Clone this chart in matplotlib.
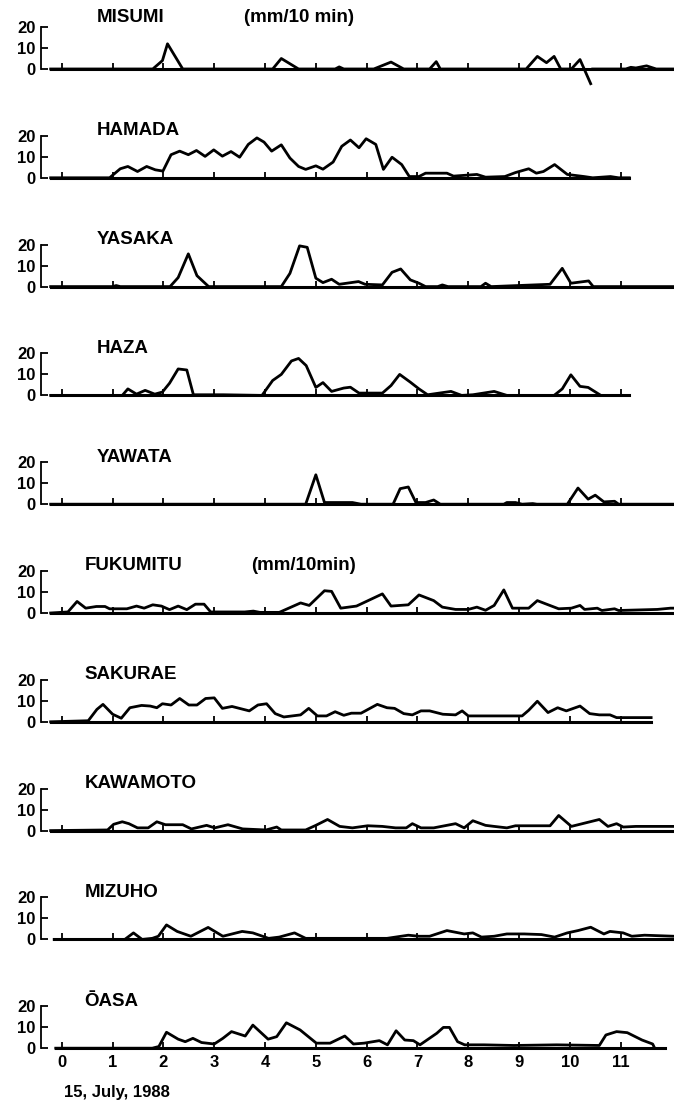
import matplotlib.pyplot as plt

plt.rcParams['font.family'] = ['Liberation Sans', 'DejaVu Sans']

nan = float('nan')

# rainfall (mm/10 min), 15 July 1988, time in hours
stations = ["MISUMI", "HAMADA", "YASAKA", "HAZA", "YAWATA",
            "FUKUMITU", "SAKURAE", "KAWAMOTO", "MIZUHO", "ŌASA"]

misumi_t = [-0.22, 1.79, 1.98, 2.08, 2.38, 4.15, 4.32, 4.66, 5.38, 5.46,
            5.55, 6.14, 6.48, 6.73, 7.24, 7.37, 7.45, 9.14, 9.36, 9.54,
            9.69, 9.82, 10.03, 10.2, 10.41, nan, 10.45, 11.1, 11.2, 11.3,
            11.51, 11.7, 12.05]
misumi_v = [0, 0, 4, 12, 0, 0, 5, 0, 0, 1,
            0, 0, 3.3, 0, 0, 3.5, 0, 0, 6, 3,
            6, 0, 0, 4.5, -7, nan, 0, 0, 0.8, 0.5,
            1.5, 0, 0]

hamada_t = [-0.22, 0.94, 1.15, 1.3, 1.49, 1.67, 1.84, 1.99, 2.15, 2.32,
            2.49, 2.65, 2.82, 2.99, 3.16, 3.33, 3.5, 3.67, 3.84, 3.98,
            4.13, 4.32, 4.49, 4.66, 4.8, 5.0, 5.14, 5.34, 5.51, 5.68,
            5.85, 5.99, 6.18, 6.33, 6.5, 6.69, 6.84, 7.03, 7.16, 7.58,
            7.71, 8.17, 8.34, 8.72, 8.93, 9.19, 9.34, 9.48, 9.7, 9.95,
            10.28, 10.45, 10.8, 10.96, 11.17]
hamada_v = [0, 0, 4.3, 5.4, 3, 5.4, 3.8, 3.2, 11, 12.7,
            11, 13, 10.2, 13.3, 10.3, 12.5, 9.8, 15.9, 19, 17,
            12.7, 15.7, 9.4, 5.4, 4, 5.7, 4.1, 7.5, 15, 18,
            14.3, 18.6, 15.9, 4, 9.8, 6.3, 0.6, 0.6, 2.2, 2.2,
            0.8, 1.6, 0.3, 0.6, 2.5, 4.3, 2.2, 3, 6.3, 1.6,
            0.6, 0, 0.6, 0, 0]

yasaka_t = [-0.22, 1.0, 1.07, 1.15, 2.13, 2.29, 2.49, 2.66, 2.89, 4.32,
            4.49, 4.68, 4.83, 5.0, 5.14, 5.31, 5.46, 5.84, 5.97, 6.31,
            6.5, 6.67, 6.86, 7.03, 7.16, 7.4, 7.49, 7.6, 8.25, 8.34,
            8.45, 9.61, 9.85, 10.02, 10.37, 10.46, 12.05]
yasaka_v = [0, 0, 0.5, 0, 0, 4.3, 15.6, 5.2, 0, 0,
            6.3, 19.4, 18.7, 4, 1.9, 3.5, 1.1, 2.4, 1.1, 0.8,
            6.8, 8.4, 3.2, 1.6, 0, 0, 0.8, 0, 0, 1.6,
            0, 1.1, 8.7, 1.6, 2.7, 0, 0]

haza_t = [-0.22, 1.19, 1.3, 1.47, 1.64, 1.83, 1.98, 2.12, 2.29, 2.46,
          2.59, 3.18, 3.94, 4.15, 4.32, 4.52, 4.66, 4.81, 5.0, 5.14,
          5.31, 5.55, 5.68, 5.85, 6.31, 6.48, 6.65, 6.86, 7.03, 7.2,
          7.66, 7.87, 8.09, 8.51, 8.76, 9.69, 9.85, 10.02, 10.2, 10.36,
          10.61, 11.17]
haza_v = [0, 0, 3.1, 0.6, 2.4, 0.6, 1.6, 5.8, 12.6, 12.1,
          0.3, 0.3, 0, 7.1, 10, 16.4, 17.6, 14.2, 3.8, 6.1,
          1.9, 3.5, 3.9, 1.1, 1.1, 4.7, 10, 6.3, 3.1, 0.3,
          1.9, 0, 0.3, 1.9, 0, 0, 3.1, 9.8, 4.3, 3.8,
          0, 0]

yawata_t = [-0.22, 4.8, 5.0, 5.17, 5.72, 5.89, 6.52, 6.66, 6.82, 6.97,
            7.16, 7.32, 7.45, 8.7, 8.76, 8.93, 9.06, 9.27, 9.35, 9.95,
            10.16, 10.36, 10.5, 10.67, 10.88, 10.96, 12.05]
yawata_v = [0, 0, 14, 0.8, 0.8, 0, 0, 7.4, 8.2, 0.8,
            0.8, 2, 0, 0, 0.8, 0.8, 0, 0.3, 0, 0,
            7.7, 2.4, 4.3, 1.1, 1.4, 0, 0]

fukumitu_t = [-0.22, 0.12, 0.3, 0.47, 0.68, 0.85, 0.94, 1.28, 1.47, 1.62,
              1.79, 1.96, 2.12, 2.29, 2.46, 2.63, 2.8, 2.93, 3.6, 3.77,
              3.9, 4.28, 4.7, 4.87, 5.17, 5.31, 5.49, 5.8, 6.31, 6.48,
              6.82, 7.03, 7.32, 7.49, 7.75, 8.0, 8.17, 8.34, 8.51, 8.7,
              8.87, 9.19, 9.36, 9.52, 9.78, 10.03, 10.2, 10.29, 10.54, 10.63,
              10.88, 10.96, 11.72, 11.98, 12.05]
fukumitu_v = [0, 0.5, 5.5, 2.3, 3.1, 3.1, 2, 2, 3.3, 2.3,
              3.9, 3.3, 1.6, 3.3, 1.6, 4.2, 4.2, 0.5, 0.5, 0.9,
              0.3, 0.3, 4.8, 3.6, 10.6, 10.3, 2.3, 3.3, 9.1, 3.3,
              3.9, 8.6, 5.9, 2.8, 1.7, 1.7, 2.8, 1.3, 3.6, 11,
              2.3, 2.3, 5.9, 4.4, 2, 2.3, 3.6, 1.7, 2.3, 1.2,
              2, 1.2, 1.7, 2.3, 2.3]

sakurae_t = [-0.22, 0.52, 0.69, 0.81, 1.0, 1.17, 1.34, 1.57, 1.74, 1.87,
             1.98, 2.15, 2.32, 2.5, 2.66, 2.83, 3.0, 3.16, 3.35, 3.69,
             3.86, 4.03, 4.2, 4.37, 4.7, 4.86, 5.03, 5.21, 5.38, 5.55,
             5.7, 5.89, 6.21, 6.4, 6.55, 6.73, 6.9, 7.07, 7.24, 7.5,
             7.75, 7.88, 8.0, 9.06, 9.19, 9.36, 9.57, 9.76, 9.93, 10.2,
             10.39, 10.58, 10.79, 10.92, 11.6]
sakurae_v = [0, 0.5, 5.9, 8.3, 3.6, 1.7, 6.7, 7.8, 7.5, 6.7,
             8.6, 8, 11.1, 8, 8, 11.1, 11.4, 6.4, 7.3, 5.2,
             8, 8.6, 3.9, 2.3, 3.3, 6.4, 2.8, 2.8, 4.8, 3.1,
             4.1, 4.1, 8.3, 6.7, 6.4, 3.9, 3.3, 5.2, 5.2, 3.6,
             3.3, 5.2, 2.8, 2.8, 5.5, 9.8, 4.4, 6.7, 5.2, 7.5,
             3.9, 3.3, 3.3, 2, 2]

kawamoto_t = [-0.22, 0.9, 1.02, 1.19, 1.32, 1.49, 1.7, 1.87, 2.04, 2.38,
              2.55, 2.85, 3.01, 3.27, 3.56, 4.02, 4.23, 4.32, 4.8, 5.0,
              5.23, 5.47, 5.72, 6.02, 6.31, 6.57, 6.78, 6.9, 7.07, 7.32,
              7.75, 7.92, 8.09, 8.34, 8.51, 8.76, 8.93, 9.61, 9.78, 10.03,
              10.58, 10.75, 10.92, 11.05, 11.3, 12.05]
kawamoto_v = [0, 0.3, 3, 4.2, 3.3, 1.3, 1.3, 4.2, 2.8, 2.8,
              0.8, 2.5, 1.3, 2.8, 0.8, 0.3, 1.7, 0.3, 0.3, 2.5,
              5.3, 2, 1.3, 2.3, 2, 1.3, 1.3, 3.3, 1.3, 1.3,
              3.3, 1.3, 4.7, 2.5, 2, 1.3, 2.3, 2.3, 7.2, 2,
              5.3, 2, 3.3, 1.7, 2, 2]

mizuho_t = [-0.15, 1.24, 1.41, 1.58, 1.78, 1.9, 2.06, 2.27, 2.54, 2.88,
            3.17, 3.55, 3.76, 4.07, 4.28, 4.58, 4.8, 5.55, 6.4, 6.82,
            7.03, 7.24, 7.58, 7.92, 8.09, 8.26, 8.51, 8.76, 9.1, 9.44,
            9.7, 9.95, 10.16, 10.41, 10.67, 10.79, 11.05, 11.22, 11.47, 12.05]
mizuho_v = [0, 0, 3.1, 0, 0.5, 1.5, 6.9, 3.8, 1.5, 5.7,
            1.5, 3.8, 3.1, 0.5, 1.1, 3.1, 0.5, 0.5, 0.5, 2,
            1.5, 1.5, 4.2, 2.6, 3.1, 1.1, 1.5, 2.6, 2.6, 2.3,
            1.1, 3.1, 4.2, 5.8, 2.6, 3.8, 3.1, 1.5, 2, 1.5]

oasa_t = [-0.12, 1.78, 1.91, 2.06, 2.29, 2.43, 2.58, 2.75, 3.0, 3.17,
          3.34, 3.61, 3.76, 4.06, 4.23, 4.42, 4.69, 5.01, 5.28, 5.57,
          5.74, 5.95, 6.25, 6.41, 6.58, 6.75, 6.92, 7.05, 7.38, 7.51,
          7.63, 7.79, 7.93, 8.31, 8.9, 9.74, 10.58, 10.71, 10.92, 11.13,
          11.42, 11.63, 11.67]
oasa_v = [0, 0, 0.8, 7.6, 4.3, 3.1, 4.7, 2.7, 2, 4.7,
          7.9, 5.8, 11, 4.3, 5.5, 12.1, 8.7, 2.4, 2.4, 5.8,
          2, 2.4, 3.6, 1.6, 8.3, 3.9, 3.6, 1.6, 7.1, 9.9,
          9.9, 3.1, 1.6, 1.6, 1.3, 1.6, 1.3, 6.3, 7.9, 7.4,
          3.9, 2, 0]

times = [misumi_t, hamada_t, yasaka_t, haza_t, yawata_t,
         fukumitu_t, sakurae_t, kawamoto_t, mizuho_t, oasa_t]
values = [misumi_v, hamada_v, yasaka_v, haza_v, yawata_v,
          fukumitu_v, sakurae_v, kawamoto_v, mizuho_v, oasa_v]
hour_labels = [str(h) for h in range(12)]

# layout (pixels / hours)
W, H = 674, 1101
base_end = [12.05, 11.17, 12.05, 11.17, 12.05, 12.05, 11.6, 12.05, 12.05, 11.87]
title_x = [0.69, 0.69, 0.69, 0.69, 0.69, 0.45, 0.45, 0.45, 0.45, 0.45]
xl, xr = -0.41, 12.05
ax_h = 42

fig = plt.figure(figsize=(W / 100, H / 100), dpi=100)

for i in range(10):
    base = 69 + 108.8 * i
    ax = fig.add_axes([41 / W, (H - base) / H, 1 - 41 / W, ax_h / H])
    ax.plot(times[i], values[i], color='black', lw=2.0, clip_on=False)
    ax.set_xlim(xl, xr)
    ax.set_ylim(0, 20)
    ax.spines[['top', 'right']].set_visible(False)
    ax.spines['bottom'].set_bounds(times[i][0], base_end[i])
    ax.spines['bottom'].set_linewidth(2.2)
    ax.spines['left'].set_linewidth(1.3)
    ax.set_yticks([0, 10, 20])
    ax.set_yticklabels(['0', '10', '20'], fontweight='bold')
    ax.tick_params(axis='y', direction='in', length=5, width=1.3, pad=4,
                   labelsize=12)
    ax.set_xticks(range(12))
    ax.tick_params(axis='x', direction='in', length=4, width=1.3, pad=5,
                   labelsize=12)
    if i == 9:
        ax.set_xticklabels(hour_labels, fontweight='bold')
    else:
        ax.set_xticklabels([])
    ty = 24.3 if i == 0 else 22.4
    ax.text(title_x[i], ty, stations[i], fontsize=13.5, fontweight='bold',
            ha='left', va='center', clip_on=False)

    if i == 0:
        ax.text(3.58, ty, "(mm/10 min)", fontsize=13.5, fontweight='bold',
                ha='left', va='center')
    if i == 5:
        ax.text(3.72, ty, "(mm/10min)", fontsize=13.5, fontweight='bold',
                ha='left', va='center')

fig.text(64 / W, 1 - 1092 / H, "15, July, 1988", fontsize=12,
         fontweight='bold', ha='left', va='center')

fig.savefig("out.png", dpi=100)
